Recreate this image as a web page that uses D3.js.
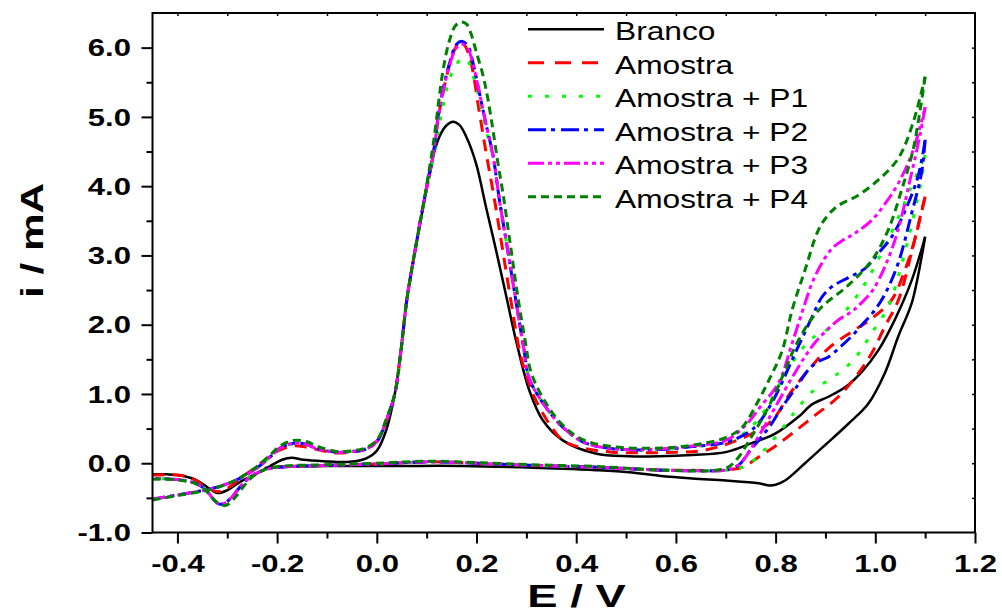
<!DOCTYPE html>
<html>
<head>
<meta charset="utf-8">
<script src="https://cdn.jsdelivr.net/npm/d3@7"></script>
<style>
  body { margin: 0; background: #fff; }
  svg { display: block; }
  text { font-family: "Liberation Sans", Arial, sans-serif; fill: #000; }
</style>
</head>
<body>
<svg id="chart" width="1002" height="616"></svg>
<script>
// ---- axis ticks ----
const xMajorTicks = [-0.4, -0.2, 0.0, 0.2, 0.4, 0.6, 0.8, 1.0, 1.2];
const xMinorTicks = [-0.3, -0.1, 0.1, 0.3, 0.5, 0.7, 0.9, 1.1];
const xTopTicks = [-0.4, -0.3, -0.2, -0.1, 0.0, 0.1, 0.2, 0.3, 0.4, 0.5, 0.6, 0.7, 0.8, 0.9, 1.0, 1.1];
const yMajorTicks = [-1, 0, 1, 2, 3, 4, 5, 6];
const yMinorTicks = [-0.5, 0.5, 1.5, 2.5, 3.5, 4.5, 5.5];
const yRightTicks = [-0.5, 0, 0.5, 1, 1.5, 2, 2.5, 3, 3.5, 4, 4.5, 5, 5.5, 6];

const seriesNames = ["Branco", "Amostra", "Amostra + P1", "Amostra + P2", "Amostra + P3", "Amostra + P4"];

// ---- voltammograms: [E / V, i / mA], anodic (fwd) and cathodic (rev) sweeps ----
const brancoFwd = [[-0.45,-0.16],[-0.42,-0.16],[-0.39,-0.18],[-0.36,-0.25],[-0.335,-0.37],[-0.319,-0.43],[-0.30,-0.39],[-0.274,-0.27],[-0.241,-0.15],[-0.214,-0.04],[-0.19,0.05],[-0.171,0.08],[-0.147,0.05],[-0.107,0.03],[-0.054,0.02],[-0.021,0.07],[0.0,0.18],[0.019,0.48],[0.036,1.0],[0.048,1.6],[0.06,2.35],[0.075,3.0],[0.093,3.70],[0.106,4.23],[0.126,4.72],[0.14,4.88],[0.153,4.93],[0.166,4.88],[0.179,4.72],[0.199,4.33],[0.219,3.70],[0.24,3.05],[0.26,2.40],[0.28,1.75],[0.306,1.05],[0.333,0.62],[0.373,0.33],[0.439,0.14],[0.506,0.10],[0.566,0.10],[0.633,0.12],[0.70,0.16],[0.752,0.29],[0.80,0.43],[0.846,0.67],[0.873,0.85],[0.906,0.96],[0.94,1.10],[0.973,1.32],[1.006,1.63],[1.039,2.07],[1.073,2.64],[1.1,3.27]];
const brancoRev = [[1.1,3.27],[1.093,2.98],[1.073,2.31],[1.046,1.83],[1.019,1.30],[0.985,0.85],[0.946,0.57],[0.899,0.26],[0.859,0.0],[0.819,-0.25],[0.80,-0.31],[0.788,-0.32],[0.766,-0.29],[0.70,-0.25],[0.633,-0.22],[0.566,-0.18],[0.506,-0.13],[0.44,-0.10],[0.373,-0.08],[0.173,-0.04],[0.04,-0.04],[-0.094,-0.04],[-0.18,-0.05],[-0.225,-0.07]];

const amostraFwd = [[-0.45,-0.17],[-0.40,-0.17],[-0.37,-0.22],[-0.345,-0.33],[-0.318,-0.41],[-0.295,-0.34],[-0.27,-0.2],[-0.245,-0.07],[-0.22,0.07],[-0.195,0.19],[-0.168,0.25],[-0.14,0.23],[-0.115,0.19],[-0.085,0.15],[-0.05,0.16],[-0.025,0.2],[0.0,0.32],[0.019,0.6],[0.036,1.0],[0.048,1.6],[0.06,2.35],[0.075,3.0],[0.093,3.72],[0.113,4.45],[0.126,5.1],[0.146,5.75],[0.16,6.03],[0.169,6.10],[0.179,6.0],[0.19,5.75],[0.205,5.1],[0.22,4.45],[0.235,3.85],[0.252,3.1],[0.27,2.3],[0.287,1.6],[0.303,1.2],[0.319,0.91],[0.346,0.57],[0.373,0.33],[0.413,0.22],[0.473,0.16],[0.539,0.15],[0.6,0.16],[0.65,0.18],[0.70,0.27],[0.753,0.43],[0.793,0.62],[0.833,1.05],[0.869,1.37],[0.906,1.66],[0.953,1.90],[0.993,2.09],[1.033,2.36],[1.06,2.8],[1.08,3.25],[1.1,3.85]];
const amostraRev = [[1.1,3.85],[1.093,3.65],[1.073,3.05],[1.046,2.35],[1.019,1.97],[0.993,1.59],[0.966,1.30],[0.926,0.96],[0.879,0.69],[0.833,0.43],[0.80,0.25],[0.766,0.09],[0.736,-0.05],[0.70,-0.10],[0.62,-0.10],[0.573,-0.10],[0.45,-0.06],[0.306,-0.03],[0.2,0.0],[0.106,0.02],[0.0,-0.01],[-0.094,-0.03],[-0.18,-0.05],[-0.225,-0.07]];

const p1Fwd = [[-0.45,-0.52],[-0.394,-0.45],[-0.334,-0.37],[-0.294,-0.28],[-0.27,-0.2],[-0.241,-0.07],[-0.214,0.09],[-0.194,0.21],[-0.167,0.28],[-0.14,0.26],[-0.121,0.21],[-0.081,0.16],[-0.05,0.17],[-0.027,0.19],[0.0,0.31],[0.019,0.62],[0.036,1.0],[0.048,1.6],[0.06,2.35],[0.075,3.0],[0.093,3.72],[0.113,4.4],[0.13,5.05],[0.146,5.55],[0.159,5.75],[0.172,5.85],[0.183,5.8],[0.193,5.6],[0.203,5.35],[0.213,5.0],[0.223,4.7],[0.233,4.4],[0.246,3.80],[0.262,3.1],[0.28,2.3],[0.295,1.65],[0.306,1.22],[0.339,0.81],[0.373,0.52],[0.413,0.31],[0.473,0.21],[0.573,0.20],[0.633,0.24],[0.70,0.30],[0.74,0.45],[0.78,0.78],[0.82,1.3],[0.85,1.62],[0.869,1.78],[0.89,1.88],[0.913,1.97],[0.946,2.25],[0.98,2.6],[1.01,3.0],[1.04,3.45],[1.07,3.95],[1.1,4.45]];
const p1Rev = [[1.1,4.45],[1.09,4.0],[1.07,3.35],[1.05,2.8],[1.026,2.26],[0.993,1.88],[0.97,1.62],[0.949,1.44],[0.93,1.32],[0.906,1.20],[0.873,1.03],[0.846,0.81],[0.826,0.62],[0.80,0.38],[0.776,0.18],[0.756,0.04],[0.735,-0.05],[0.715,-0.09],[0.70,-0.10],[0.573,-0.10],[0.45,-0.06],[0.306,-0.03],[0.2,0.0],[0.106,0.02],[0.0,-0.01],[-0.094,-0.03],[-0.2,-0.06],[-0.227,-0.10],[-0.254,-0.20],[-0.274,-0.34],[-0.29,-0.48],[-0.304,-0.57],[-0.316,-0.59],[-0.328,-0.52],[-0.341,-0.40],[-0.36,-0.30],[-0.385,-0.25],[-0.41,-0.23],[-0.45,-0.22]];

const p2Fwd = [[-0.45,-0.52],[-0.394,-0.45],[-0.334,-0.37],[-0.294,-0.28],[-0.27,-0.2],[-0.241,-0.07],[-0.214,0.09],[-0.194,0.22],[-0.167,0.29],[-0.14,0.27],[-0.121,0.21],[-0.081,0.16],[-0.05,0.17],[-0.027,0.19],[0.0,0.31],[0.019,0.62],[0.036,1.0],[0.048,1.6],[0.06,2.35],[0.075,3.0],[0.093,3.72],[0.113,4.45],[0.126,5.15],[0.146,5.78],[0.16,6.05],[0.172,6.09],[0.183,6.02],[0.193,5.78],[0.203,5.44],[0.213,5.10],[0.223,4.77],[0.233,4.45],[0.246,3.80],[0.262,3.1],[0.28,2.3],[0.295,1.65],[0.306,1.22],[0.339,0.81],[0.373,0.52],[0.413,0.31],[0.473,0.21],[0.573,0.20],[0.633,0.24],[0.70,0.30],[0.746,0.45],[0.766,0.58],[0.799,0.96],[0.833,1.49],[0.873,2.11],[0.893,2.40],[0.913,2.55],[0.946,2.68],[0.979,2.81],[1.006,3.03],[1.033,3.27],[1.06,3.65],[1.086,4.15],[1.1,4.67]];
const p2Rev = [[1.1,4.67],[1.093,4.2],[1.073,3.61],[1.046,2.89],[1.02,2.45],[0.999,2.21],[0.976,2.02],[0.955,1.85],[0.93,1.68],[0.905,1.53],[0.886,1.47],[0.866,1.35],[0.84,1.08],[0.813,0.81],[0.79,0.55],[0.766,0.33],[0.746,0.16],[0.73,0.0],[0.715,-0.07],[0.70,-0.10],[0.573,-0.10],[0.45,-0.06],[0.306,-0.03],[0.2,0.0],[0.106,0.02],[0.0,-0.01],[-0.094,-0.03],[-0.2,-0.06],[-0.227,-0.10],[-0.254,-0.20],[-0.274,-0.34],[-0.29,-0.48],[-0.304,-0.57],[-0.316,-0.59],[-0.328,-0.52],[-0.341,-0.40],[-0.36,-0.30],[-0.385,-0.25],[-0.41,-0.23],[-0.45,-0.22]];

const p3Fwd = [[-0.45,-0.52],[-0.394,-0.45],[-0.334,-0.37],[-0.294,-0.28],[-0.27,-0.2],[-0.241,-0.07],[-0.214,0.09],[-0.194,0.22],[-0.167,0.29],[-0.14,0.27],[-0.121,0.21],[-0.081,0.16],[-0.05,0.17],[-0.027,0.19],[0.0,0.31],[0.019,0.62],[0.036,1.0],[0.048,1.6],[0.06,2.35],[0.075,3.0],[0.093,3.72],[0.113,4.45],[0.126,5.12],[0.146,5.75],[0.16,6.0],[0.172,6.05],[0.183,5.98],[0.193,5.76],[0.203,5.44],[0.213,5.10],[0.223,4.77],[0.233,4.45],[0.246,3.80],[0.262,3.1],[0.28,2.3],[0.295,1.65],[0.306,1.22],[0.339,0.81],[0.373,0.52],[0.413,0.31],[0.473,0.21],[0.573,0.21],[0.633,0.25],[0.70,0.33],[0.74,0.55],[0.77,0.82],[0.806,1.16],[0.833,1.73],[0.859,2.31],[0.873,2.60],[0.893,2.89],[0.913,3.10],[0.935,3.22],[0.959,3.32],[0.993,3.51],[1.02,3.75],[1.046,4.04],[1.075,4.5],[1.1,5.14]];
const p3Rev = [[1.1,5.14],[1.09,4.75],[1.07,4.1],[1.045,3.35],[1.02,2.85],[0.995,2.5],[0.97,2.3],[0.953,2.19],[0.926,2.07],[0.90,1.9],[0.88,1.75],[0.86,1.55],[0.83,1.2],[0.80,0.82],[0.775,0.5],[0.75,0.2],[0.73,0.0],[0.715,-0.07],[0.70,-0.10],[0.573,-0.10],[0.45,-0.06],[0.306,-0.03],[0.2,0.0],[0.106,0.02],[0.0,-0.01],[-0.094,-0.03],[-0.2,-0.06],[-0.227,-0.10],[-0.254,-0.20],[-0.274,-0.34],[-0.29,-0.48],[-0.304,-0.57],[-0.316,-0.59],[-0.328,-0.52],[-0.341,-0.40],[-0.36,-0.30],[-0.385,-0.25],[-0.41,-0.23],[-0.45,-0.22]];

const p4Fwd = [[-0.45,-0.53],[-0.394,-0.46],[-0.334,-0.38],[-0.294,-0.28],[-0.27,-0.19],[-0.241,-0.05],[-0.214,0.12],[-0.194,0.25],[-0.167,0.33],[-0.14,0.31],[-0.121,0.25],[-0.081,0.17],[-0.05,0.18],[-0.027,0.21],[0.0,0.33],[0.019,0.64],[0.036,1.0],[0.048,1.6],[0.06,2.35],[0.075,3.0],[0.093,3.72],[0.113,4.6],[0.133,5.68],[0.146,6.11],[0.158,6.32],[0.169,6.37],[0.18,6.34],[0.189,6.20],[0.199,5.95],[0.213,5.6],[0.223,5.25],[0.233,4.81],[0.243,4.33],[0.253,3.90],[0.266,3.25],[0.283,2.4],[0.298,1.75],[0.31,1.3],[0.34,0.86],[0.373,0.55],[0.413,0.34],[0.473,0.24],[0.573,0.22],[0.633,0.26],[0.70,0.37],[0.733,0.52],[0.766,0.91],[0.79,1.25],[0.813,1.62],[0.833,2.21],[0.859,2.79],[0.886,3.37],[0.905,3.58],[0.926,3.72],[0.966,3.87],[1.006,4.09],[1.046,4.4],[1.075,4.9],[1.1,5.58]];
const p4Rev = [[1.1,5.58],[1.09,5.1],[1.075,4.5],[1.053,3.95],[1.026,3.37],[0.993,2.93],[0.946,2.57],[0.893,2.26],[0.866,2.02],[0.839,1.68],[0.819,1.34],[0.799,1.01],[0.776,0.68],[0.753,0.40],[0.726,0.09],[0.706,-0.05],[0.68,-0.10],[0.573,-0.10],[0.45,-0.05],[0.306,-0.02],[0.2,0.01],[0.106,0.03],[0.0,0.0],[-0.094,-0.02],[-0.2,-0.05],[-0.227,-0.10],[-0.25,-0.2],[-0.27,-0.36],[-0.285,-0.5],[-0.298,-0.59],[-0.306,-0.61],[-0.318,-0.58],[-0.33,-0.5],[-0.345,-0.38],[-0.365,-0.29],[-0.39,-0.25],[-0.42,-0.23],[-0.45,-0.23]];

// ---- layout ----
const svg = d3.select("#chart");
svg.append("rect").attr("width", 1002).attr("height", 616).attr("fill", "#fff");

const plot = { left: 152.5, right: 975, top: 13, bottom: 532.5 };
const x = d3.scaleLinear().domain([-0.45, 1.2]).range([plot.left, plot.right]);
const y = d3.scaleLinear().domain([-1, 6.5]).range([plot.bottom, plot.top]);

const styles = [
  { color: "#000000", width: 2.5, dash: null,               legendDash: null },
  { color: "#ff0000", width: 3,   dash: "12,8",             legendDash: "16,11" },
  { color: "#00ff00", width: 3,   dash: "4,11",             legendDash: "4,13" },
  { color: "#0000ff", width: 3,   dash: "13,5,4,5",         legendDash: "18,5,4,6" },
  { color: "#ff00ff", width: 3,   dash: "13,4,4,4,4,4",     legendDash: "16,4,4,4,4,4" },
  { color: "#008000", width: 3,   dash: "8,5",              legendDash: "8,5" }
];
const sweeps = [
  [brancoFwd, brancoRev],
  [amostraFwd, amostraRev],
  [p1Fwd, p1Rev],
  [p2Fwd, p2Rev],
  [p3Fwd, p3Rev],
  [p4Fwd, p4Rev]
];

// ---- curves ----
svg.append("clipPath").attr("id", "plotClip")
  .append("rect")
  .attr("x", plot.left).attr("y", plot.top)
  .attr("width", plot.right - plot.left).attr("height", plot.bottom - plot.top);

const line = d3.line()
  .x(d => x(d[0]))
  .y(d => y(d[1]))
  .curve(d3.curveCatmullRom.alpha(0.5));

const curves = svg.append("g").attr("clip-path", "url(#plotClip)");
sweeps.forEach((pair, k) => {
  const s = styles[k];
  pair.forEach(pts => {
    curves.append("path")
      .attr("d", line(pts))
      .attr("fill", "none")
      .attr("stroke", s.color)
      .attr("stroke-width", s.width)
      .attr("stroke-linejoin", "round")
      .attr("stroke-dasharray", s.dash);
  });
});

// ---- axes ----
const tickFont = 23, tickStretch = 1.35;
const fmt = d => d.toFixed(1);   // plain hyphen-minus, one decimal

const bottomAxis = svg.append("g").attr("transform", `translate(0,${plot.bottom})`);
bottomAxis.call(d3.axisBottom(x).tickValues(xMajorTicks).tickSize(11).tickFormat(fmt))
  .call(g => g.select(".domain").remove())
  .call(g => g.selectAll("line").attr("stroke", "#000").attr("stroke-width", 2))
  .call(g => g.selectAll("text")
    .attr("y", 39.5).attr("dy", null)
    .attr("font-size", tickFont).attr("font-weight", "bold")
    .attr("font-family", "'Liberation Sans', Arial, sans-serif")
    .attr("transform", `scale(${tickStretch},1)`));
svg.append("g").attr("transform", `translate(0,${plot.bottom})`)
  .call(d3.axisBottom(x).tickValues(xMinorTicks).tickSize(6).tickFormat(""))
  .call(g => g.select(".domain").remove())
  .call(g => g.selectAll("line").attr("stroke", "#000").attr("stroke-width", 2));

const leftAxis = svg.append("g").attr("transform", `translate(${plot.left},0)`);
leftAxis.call(d3.axisLeft(y).tickValues(yMajorTicks).tickSize(11).tickFormat(fmt))
  .call(g => g.select(".domain").remove())
  .call(g => g.selectAll("line").attr("stroke", "#000").attr("stroke-width", 2))
  .call(g => g.selectAll("text")
    .attr("x", 0).attr("dy", "0.36em")
    .attr("font-size", tickFont).attr("font-weight", "bold")
    .attr("font-family", "'Liberation Sans', Arial, sans-serif")
    .attr("transform", `translate(-21.5,0) scale(${tickStretch},1)`));
svg.append("g").attr("transform", `translate(${plot.left},0)`)
  .call(d3.axisLeft(y).tickValues(yMinorTicks).tickSize(6).tickFormat(""))
  .call(g => g.select(".domain").remove())
  .call(g => g.selectAll("line").attr("stroke", "#000").attr("stroke-width", 2));

// short inward ticks on the top and right edges
svg.append("g").attr("transform", `translate(0,${plot.top})`)
  .call(d3.axisBottom(x).tickValues(xTopTicks).tickSize(3).tickFormat(""))
  .call(g => g.select(".domain").remove())
  .call(g => g.selectAll("line").attr("stroke", "#000").attr("stroke-width", 1.5));
svg.append("g").attr("transform", `translate(${plot.right},0)`)
  .call(d3.axisLeft(y).tickValues(yRightTicks).tickSize(3).tickFormat(""))
  .call(g => g.select(".domain").remove())
  .call(g => g.selectAll("line").attr("stroke", "#000").attr("stroke-width", 1.5));

// frame
svg.append("rect")
  .attr("x", plot.left).attr("y", plot.top)
  .attr("width", plot.right - plot.left).attr("height", plot.bottom - plot.top)
  .attr("fill", "none").attr("stroke", "#000").attr("stroke-width", 2);

// axis titles
svg.append("text")
  .attr("transform", "translate(576.5,607) scale(1.42,1)")
  .attr("text-anchor", "middle")
  .attr("font-size", 32).attr("font-weight", "bold")
  .text("E / V");
svg.append("text")
  .attr("transform", "translate(43,240.5) rotate(-90) scale(1.32,1)")
  .attr("text-anchor", "middle")
  .attr("font-size", 32).attr("font-weight", "bold")
  .text("i / mA");

// ---- legend ----
const legend = svg.append("g");
seriesNames.forEach((name, k) => {
  const s = styles[k];
  const base = 40.3 + k * 33.5;
  legend.append("line")
    .attr("x1", 528).attr("x2", 604)
    .attr("y1", base - 11).attr("y2", base - 11)
    .attr("stroke", s.color)
    .attr("stroke-width", s.width)
    .attr("stroke-dasharray", s.legendDash);
  legend.append("text")
    .attr("transform", `translate(615,${base}) scale(1.22,1)`)
    .attr("font-size", 26)
    .text(name);
});
</script>
</body>
</html>
